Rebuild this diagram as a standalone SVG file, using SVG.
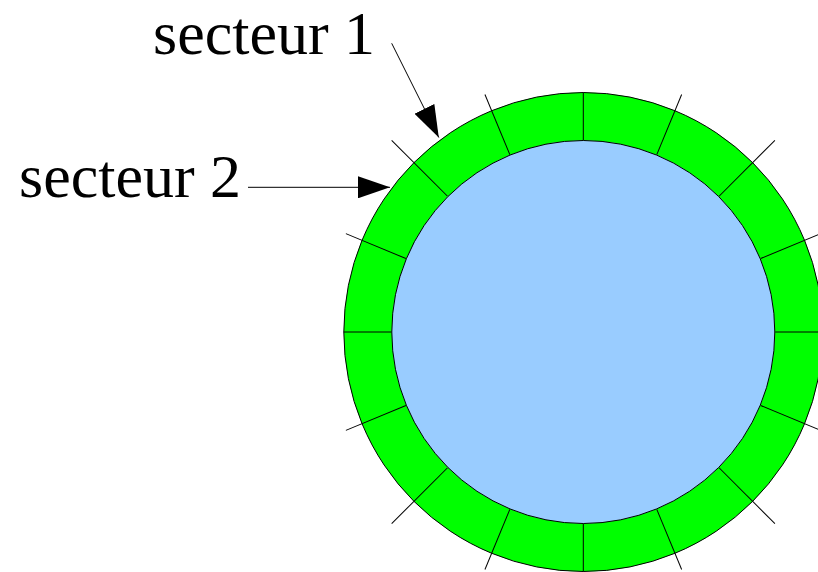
<svg xmlns="http://www.w3.org/2000/svg" width="818" height="572" viewBox="0 0 818 572">
  <defs>
    <style>
      .ring { fill: #00ff00; stroke: #000; stroke-width: 1; }
      .core { fill: #99ccff; stroke: #000; stroke-width: 1; }
      .div { stroke: #000; stroke-width: 1; fill: none; }
      .lead { stroke: #000; stroke-width: 1; fill: none; marker-end: url(#head); }
      .lbl { font-family: "Liberation Serif", "Times New Roman", serif; font-size: 62px; fill: #000; }
    </style>
    <marker id="head" viewBox="0 0 32 22" refX="32" refY="11" markerWidth="32" markerHeight="22" markerUnits="userSpaceOnUse" orient="auto">
      <path d="M0,0 L32,11 L0,22 Z" fill="#000"/>
    </marker>
  </defs>

  <!-- disk: outer ring of sectors around the core -->
  <g id="disk">
    <circle class="ring" cx="583.3" cy="332" r="239.5"/>
    <g id="dividers" transform="translate(583.3 332)">
      <!-- axis dividers stay inside the ring -->
      <line class="div" x1="0" y1="-192" x2="0" y2="-239.5"/>
      <line class="div" x1="0" y1="192" x2="0" y2="239.5"/>
      <line class="div" x1="-192" y1="0" x2="-239.5" y2="0"/>
      <line class="div" x1="192" y1="0" x2="239.5" y2="0"/>
      <!-- diagonal dividers overshoot the ring -->
      <line class="div" x1="0" y1="-192" x2="0" y2="-271" transform="rotate(45)"/>
      <line class="div" x1="0" y1="-192" x2="0" y2="-271" transform="rotate(135)"/>
      <line class="div" x1="0" y1="-192" x2="0" y2="-271" transform="rotate(225)"/>
      <line class="div" x1="0" y1="-192" x2="0" y2="-271" transform="rotate(315)"/>
      <!-- intermediate dividers, shorter overshoot -->
      <line class="div" x1="0" y1="-192" x2="0" y2="-257" transform="rotate(22.5)"/>
      <line class="div" x1="0" y1="-192" x2="0" y2="-257" transform="rotate(67.5)"/>
      <line class="div" x1="0" y1="-192" x2="0" y2="-257" transform="rotate(112.5)"/>
      <line class="div" x1="0" y1="-192" x2="0" y2="-257" transform="rotate(157.5)"/>
      <line class="div" x1="0" y1="-192" x2="0" y2="-257" transform="rotate(202.5)"/>
      <line class="div" x1="0" y1="-192" x2="0" y2="-257" transform="rotate(247.5)"/>
      <line class="div" x1="0" y1="-192" x2="0" y2="-257" transform="rotate(292.5)"/>
      <line class="div" x1="0" y1="-192" x2="0" y2="-257" transform="rotate(337.5)"/>
    </g>
    <circle class="core" cx="583.3" cy="332" r="191.5"/>
  </g>

  <g id="label-secteur-1">
    <text class="lbl" x="153" y="54">secteur 1</text>
  </g>
  <g id="label-secteur-2">
    <text class="lbl" x="19" y="197">secteur 2</text>
  </g>

  <g id="connectors">
    <line class="lead" x1="391.7" y1="43.3" x2="438.8" y2="137.5"/>
    <line class="lead" x1="248" y1="187.3" x2="390" y2="187.3"/>
  </g>
</svg>
